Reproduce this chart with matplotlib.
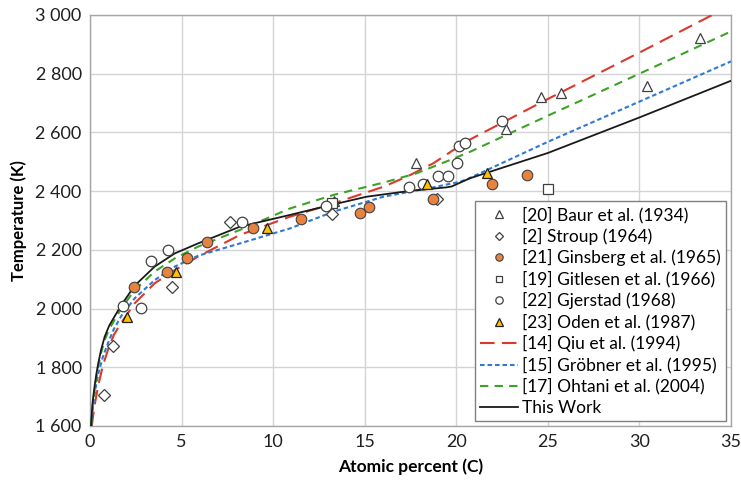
"""
Liquidus temperature vs atomic percent C: experimental data and assessments.
"""
import matplotlib
matplotlib.use("Agg")
import matplotlib.pyplot as plt
from matplotlib.ticker import FuncFormatter

plt.rcParams['font.family'] = ['Lato', 'DejaVu Sans']

# Experimental points (atomic percent C, temperature K)
baur_x = [13.3, 17.8, 22.7, 24.6, 25.7, 30.4, 33.3]
baur_t = [2365, 2497, 2612, 2721, 2733, 2758, 2923]

stroup_x = [0.78, 1.27, 4.46, 7.65, 13.2, 18.93]
stroup_t = [1706, 1873, 2073, 2296, 2322, 2372]

ginsberg_x = [2.42, 4.19, 5.28, 6.37, 8.88, 11.5, 14.75, 15.26, 18.75, 21.94, 23.88]
ginsberg_t = [2074, 2125, 2173, 2226, 2273, 2304, 2325, 2345, 2372, 2425, 2456]

gitlesen_x = [13.2, 25.03]
gitlesen_t = [2358, 2408]

gjerstad_x = [1.78, 2.77, 3.31, 4.24, 8.3, 12.89, 17.44, 18.17, 19.02, 19.57,
              20.03, 20.17, 20.48, 22.48]
gjerstad_t = [2009, 2002, 2161, 2200, 2295, 2349, 2413, 2424, 2453, 2453,
              2495, 2554, 2563, 2639]

oden_x = [2.04, 4.68, 9.68, 18.42, 21.66]
oden_t = [1972, 2125, 2273, 2423, 2463]

# Calculated curves
qiu_x = [0.1, 0.16, 0.25, 0.44, 0.7, 0.98, 1.3, 1.71, 2.44, 3.53, 4.63, 5.9,
         8.19, 10.92, 13.29, 16.02, 17.29, 18.75, 20.57, 25, 30, 35]
qiu_t = [1600, 1630, 1670, 1735, 1805, 1859, 1910, 1952, 2018, 2086, 2131, 2177,
         2251, 2313, 2358, 2415, 2449, 2495, 2570, 2714, 2872, 3033]

grobner_x = [0.06, 0.1, 0.16, 0.25, 0.44, 0.7, 0.98, 1.3, 1.71, 2.44, 3.53, 4.63,
             5.9, 8.19, 10.92, 13.29, 16.02, 18.75, 20.2, 20.57, 25, 30, 35]
grobner_t = [1600, 1630, 1665, 1710, 1775, 1835, 1882, 1930, 1975, 2035, 2097, 2143,
             2180, 2222, 2273, 2330, 2381, 2413, 2432, 2440, 2568, 2705, 2842]

ohtani_x = [0.06, 0.1, 0.16, 0.26, 0.44, 0.6, 0.8, 1.05, 1.35, 1.71, 2.44, 3.53,
            4.63, 5.9, 8.19, 10.92, 13.29, 16.02, 17.84, 19.66, 20.75, 25, 30, 35]
ohtani_t = [1600, 1640, 1680, 1725, 1800, 1848, 1893, 1930, 1962, 2001, 2063, 2126,
            2171, 2211, 2268, 2341, 2387, 2429, 2461, 2506, 2534, 2657, 2800, 2944]

work_x = [0.06, 0.1, 0.16, 0.26, 0.35, 0.44, 0.6, 0.8, 1.05, 1.35, 1.71, 2.44,
          3.53, 4.63, 5.9, 8.19, 10.92, 13.1, 15.1, 17.48, 19.48, 19.75, 20.75,
          25, 30, 35]
work_t = [1600, 1645, 1690, 1740, 1778, 1810, 1858, 1904, 1942, 1974, 2012, 2078,
          2143, 2188, 2222, 2279, 2319, 2352, 2381, 2401, 2413, 2416, 2444,
          2530, 2651, 2776]

fig = plt.figure(figsize=(7.41, 4.84), dpi=100)
ax = fig.add_axes([90 / 741, 58 / 484, 641 / 741, 411 / 484])

edge = '#404040'
ms = 7.6
ax.plot(baur_x, baur_t, '^', ms=ms, mfc='white', mec=edge, mew=0.9,
        label='[20] Baur et al. (1934)', zorder=4)
ax.plot(stroup_x, stroup_t, 'D', ms=ms - 1.6, mfc='white', mec=edge, mew=0.9,
        label='[2] Stroup (1964)', zorder=4)
ax.plot(ginsberg_x, ginsberg_t, 'o', ms=ms, mfc='#E8823F', mec=edge, mew=0.8,
        label='[21] Ginsberg et al. (1965)', zorder=4)
ax.plot(gitlesen_x, gitlesen_t, 's', ms=ms - 0.8, mfc='white', mec=edge, mew=0.9,
        label='[19] Gitlesen et al. (1966)', zorder=4)
ax.plot(gjerstad_x, gjerstad_t, 'o', ms=ms, mfc='white', mec=edge, mew=0.9,
        label='[22] Gjerstad (1968)', zorder=4)
ax.plot(oden_x, oden_t, '^', ms=ms, mfc='#FFC000', mec='#202020', mew=0.9,
        label='[23] Oden et al. (1987)', zorder=4)

ax.plot(qiu_x, qiu_t, color='#D93A2B', lw=1.5, dashes=(7, 3.5),
        label='[14] Qiu et al. (1994)', zorder=3)
ax.plot(grobner_x, grobner_t, color='#2F78D4', lw=1.5, dashes=(2.2, 1.4),
        label='[15] Gröbner et al. (1995)', zorder=3)
ax.plot(ohtani_x, ohtani_t, color='#3BA325', lw=1.5, dashes=(4, 3),
        label='[17] Ohtani et al. (2004)', zorder=3)
ax.plot(work_x, work_t, color='#1A1A1A', lw=1.3, label='This Work', zorder=3)

ax.set_xlim(0, 35)
ax.set_ylim(1600, 3000)
ax.set_xticks(range(0, 36, 5))
ax.set_yticks(range(1600, 3001, 200))
ax.yaxis.set_major_formatter(FuncFormatter(lambda v, p: f"{int(v):,}".replace(",", " ")))
ax.tick_params(length=0, labelsize=13, pad=6, colors='#202020')
ax.grid(color='#D4D4D4', lw=1)
ax.set_axisbelow(True)
for s in ax.spines.values():
    s.set_color('#A6A6A6')
    s.set_linewidth(1)

ax.set_xlabel('Atomic percent (C)', fontsize=12.5, fontweight='bold', labelpad=6)
ax.set_ylabel('Temperature (K)', fontsize=12, fontweight='bold', labelpad=6)

leg = ax.legend(loc='lower right', fontsize=12.5, frameon=True, fancybox=False,
                borderaxespad=0.3, handlelength=2.2, handletextpad=0.2,
                labelspacing=0.27, borderpad=0.3, markerscale=0.7)
leg.get_frame().set_edgecolor('#808080')
leg.get_frame().set_linewidth(1)
leg.get_frame().set_alpha(1)

fig.savefig('out.png', dpi=100)
